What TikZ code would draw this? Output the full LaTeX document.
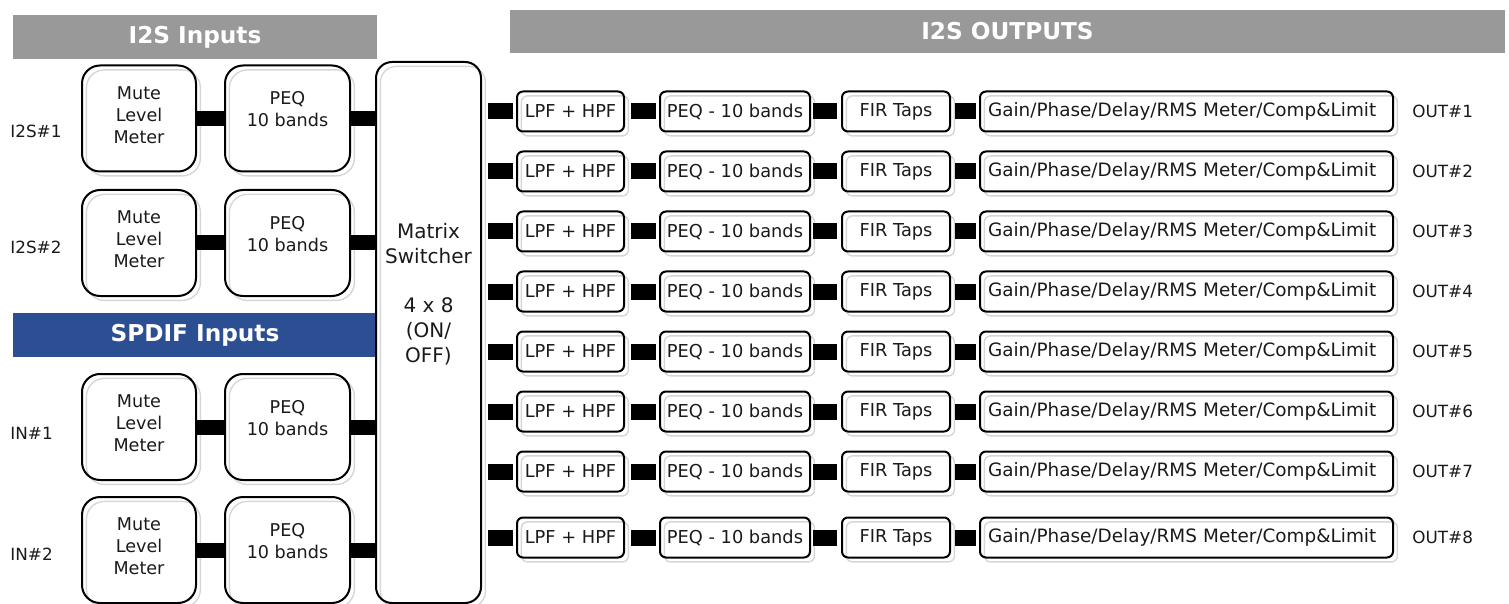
\documentclass[tikz,border=0pt]{standalone}
\usepackage{fontspec}
\setmainfont{DejaVu Sans}
\definecolor{hdrgray}{HTML}{999999}
\definecolor{hdrblue}{HTML}{2C4E92}
\definecolor{txt}{HTML}{1A1A1A}
\begin{document}
\begin{tikzpicture}[x=0.5pt,y=-0.5pt,
  boxbase/.style={draw=black, line width=1pt, inner sep=0pt, text=txt,
    preaction={draw=black!16, line width=0.7pt, transform canvas={shift={(2.2pt,-2.2pt)}}}},
  inbox/.style={boxbase, rounded corners=9pt, minimum width=57pt, minimum height=53pt},
  peqbox/.style={boxbase, rounded corners=9pt, minimum width=62.5pt, minimum height=53pt},
  mxbox/.style={boxbase, rounded corners=8pt, minimum width=52.5pt, minimum height=270.5pt},
  obox/.style={boxbase, rounded corners=3pt, minimum height=20pt, font=\fontsize{8.9}{11}\selectfont},
  gainbox/.style={obox, inner xsep=4pt, text width=198.5pt, align=left, font=\fontsize{9.2}{11}\selectfont},
  intext/.style={align=center, text=txt, inner sep=0pt, font=\fontsize{8.8}{11}\selectfont},
  lbl/.style={text=txt, inner sep=0pt, font=\fontsize{8.4}{10}\selectfont},
  hdr/.style={inner sep=0pt, text=white, font=\fontsize{11.6}{14}\bfseries\selectfont},
  ibar/.style={line width=7.5pt, black},
  obar/.style={line width=8pt, black, shorten <=2pt, shorten >=1.5pt}
]
\useasboundingbox (0,0) rectangle (1509,604);

% headers
\node[hdr, fill=hdrgray, minimum width=182pt, minimum height=22pt] (hin) at (195,37) {I2S Inputs};
\node[hdr, fill=hdrblue, minimum width=182pt, minimum height=22pt] (hsp) at (195,335) {SPDIF Inputs};
\node[hdr, fill=hdrgray, minimum width=497.5pt, minimum height=21.5pt] (hout) at (1007.5,31.5) {I2S OUTPUTS};

% matrix
\node[mxbox] (mx) at (428.5,332.5) {};
\node[intext, font=\fontsize{10}{12.5}\selectfont] (mxt) at (428.5,294)
  {Matrix\\Switcher\\[12pt]4 x 8\\(ON/\\OFF)};

% input rows
\foreach \i/\y/\lab/\ly in {1/118.5/I2S\#1/131, 2/243/I2S\#2/247, 3/427/IN\#1/433, 4/550/IN\#2/554}{
  \node[inbox] (m\i) at (139,\y) {};
  \node[peqbox] (p\i) at (287.5,\y) {};
  \node[intext] (m\i t) at ([yshift=1.75pt]m\i.center) {Mute\\Level\\Meter};
  \node[intext] (p\i t) at ([yshift=4.5pt]p\i.center) {PEQ\\10 bands};
  \node[lbl, anchor=west] (l\i) at (10,\ly) {\lab};
  \draw[ibar] (m\i.east) -- (p\i.west);
  \draw[ibar] (p\i.east) -- (p\i.east -| mx.west);
}

% output rows
\foreach \i/\y in {1/111.5, 2/171.5, 3/231.5, 4/291.5, 5/351.5, 6/411.5, 7/471.5, 8/537.5}{
  \node[obox, minimum width=53.5pt] (a\i) at (570.5,\y) {LPF + HPF};
  \node[obox, minimum width=75pt] (b\i) at (735,\y) {PEQ - 10 bands};
  \node[obox, minimum width=54pt] (c\i) at (896,\y) {FIR Taps};
  \node[gainbox] (d\i) at (1186.5,\y) {Gain/Phase/Delay/RMS Meter/Comp\&Limit};
  \node[lbl, anchor=west] (o\i) at (1412,\y) {OUT\#\i};
  \draw[obar, shorten <=3pt] (a\i.west -| mx.east) -- (a\i.west);
  \draw[obar, shorten <=3pt] (a\i.east) -- (b\i.west);
  \draw[obar, shorten <=1pt, shorten >=2pt] (b\i.east) -- (c\i.west);
  \draw[obar] (c\i.east) -- (d\i.west);
}
\end{tikzpicture}
\end{document}
